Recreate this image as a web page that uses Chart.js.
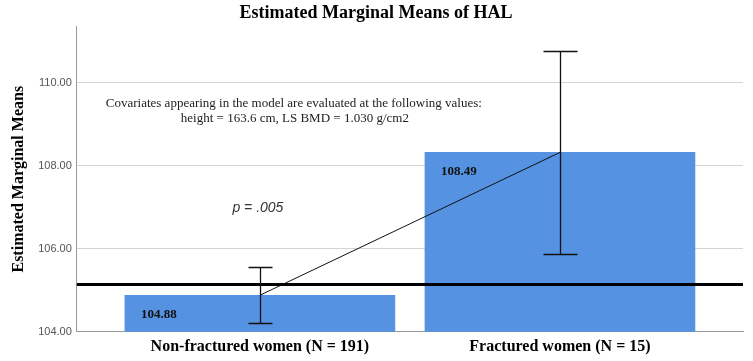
<!DOCTYPE html>
<html>
<head>
<meta charset="utf-8">
<script src="https://cdn.jsdelivr.net/npm/chart.js@4.4.1/dist/chart.umd.min.js"></script>
<style>
  html, body { margin: 0; padding: 0; background: #fff; }
  #wrap { width: 753px; height: 361px; }
</style>
</head>
<body>
<div id="wrap"><canvas id="myChart"></canvas></div>
<script>
'use strict';

// data
const groups = ['Non-fractured women (N = 191)', 'Fractured women (N = 15)'];
const means = [104.88, 108.32];
const meanLabels = ['104.88', '108.49'];
const ciLow = [104.22, 105.87];
const ciHigh = [105.57, 110.77];
const refValue = 105.14;
const yTicks = [104, 106, 108, 110];
const noteLines = [
  'Covariates appearing in the model are evaluated at the following values:',
  'height = 163.6 cm, LS BMD = 1.030 g/cm2'
];
const pLabel = 'p = .005';

const serif = "'Liberation Serif', 'Times New Roman', serif";
const sans = "'Liberation Sans', Arial, sans-serif";
const capWidths = [24, 34];

const points = means.map(function (m, i) { return { x: i, y: m }; });

// reference line, error bars, labels and notes
const extrasPlugin = {
  id: 'extras',
  afterDatasetsDraw(chart) {
    const ctx = chart.ctx;
    const xs = chart.scales.x;
    const ys = chart.scales.y;
    const area = chart.chartArea;
    ctx.save();

    // thick horizontal reference line
    ctx.strokeStyle = '#000';
    ctx.lineWidth = 3;
    ctx.beginPath();
    ctx.moveTo(area.left, ys.getPixelForValue(refValue));
    ctx.lineTo(area.right, ys.getPixelForValue(refValue));
    ctx.stroke();

    // error bars
    ctx.lineWidth = 1.3;
    ctx.strokeStyle = '#111';
    for (let i = 0; i < means.length; i++) {
      const x = Math.round(xs.getPixelForValue(i)) + 0.5;
      const top = Math.round(ys.getPixelForValue(ciHigh[i])) + 0.5;
      const bot = Math.round(ys.getPixelForValue(ciLow[i])) + 0.5;
      const half = capWidths[i] / 2;
      ctx.beginPath();
      ctx.moveTo(x, top);
      ctx.lineTo(x, bot);
      ctx.moveTo(x - half, top);
      ctx.lineTo(x + half, top);
      ctx.moveTo(x - half, bot);
      ctx.lineTo(x + half, bot);
      ctx.stroke();
    }

    // value labels inside the bars (dataset 1 is the bar set)
    const meta = chart.getDatasetMeta(1);
    ctx.fillStyle = '#111';
    ctx.font = 'bold 13px ' + serif;
    ctx.textAlign = 'left';
    ctx.textBaseline = 'middle';
    meta.data.forEach(function (bar, i) {
      const left = bar.x - bar.width / 2;
      ctx.fillText(meanLabels[i], left + 16, bar.y + 19);
    });

    // covariate note
    ctx.font = '13px ' + serif;
    ctx.textAlign = 'center';
    ctx.fillStyle = '#222';
    ctx.fillText(noteLines[0], area.left + 217, area.top + 77);
    ctx.fillText(noteLines[1], area.left + 218, area.top + 92);

    // p value
    ctx.font = 'italic 14px ' + sans;
    ctx.fillStyle = '#333';
    ctx.fillText(pLabel, xs.getPixelForValue(0) - 2, ys.getPixelForValue(106.97));

    ctx.restore();
  }
};

const chartCanvas = document.getElementById('myChart');

new Chart(chartCanvas, {
  type: 'bar',
  data: {
    datasets: [{
      type: 'line',
      data: points,
      borderColor: '#111',
      borderWidth: 1,
      pointRadius: 0,
      fill: false,
      order: 1
    }, {
      data: points,
      backgroundColor: '#5592e2',
      borderWidth: 0,
      barThickness: 270,
      order: 2
    }]
  },
  options: {
    responsive: true,
    maintainAspectRatio: false,
    animation: false,
    layout: { padding: { top: 0, right: 10, bottom: 0, left: 9 } },
    plugins: {
      legend: { display: false },
      tooltip: { enabled: false },
      title: {
        display: true,
        text: 'Estimated Marginal Means of HAL',
        color: '#000',
        font: { family: serif, size: 18, weight: 'bold' },
        padding: { top: 3, bottom: 2 }
      }
    },
    scales: {
      x: {
        type: 'linear',
        offset: false,
        min: -0.61,
        max: 1.61,
        afterBuildTicks(scale) {
          scale.ticks = groups.map(function (g, i) { return { value: i }; });
        },
        ticks: {
          color: '#000',
          font: { family: serif, size: 16, weight: 'bold' },
          padding: 5,
          maxRotation: 0,
          autoSkip: false,
          callback: function (v) { return groups[v]; }
        },
        grid: { display: false, drawTicks: false, offset: false },
        border: { color: '#999', width: 1 }
      },
      y: {
        min: 104,
        max: 111.35,
        afterBuildTicks(scale) {
          scale.ticks = yTicks.map(function (t) { return { value: t }; });
        },
        ticks: {
          color: '#555',
          font: { family: sans, size: 11 },
          padding: 5,
          callback: function (v) { return v.toFixed(2); }
        },
        grid: { color: '#d4d4d4', drawTicks: false },
        border: { color: '#999', width: 1 },
        title: {
          display: true,
          text: 'Estimated Marginal Means',
          color: '#000',
          font: { family: serif, size: 16, weight: 'bold' },
          padding: { top: 0, bottom: 5 }
        }
      }
    }
  },
  plugins: [extrasPlugin]
});
</script>
</body>
</html>
